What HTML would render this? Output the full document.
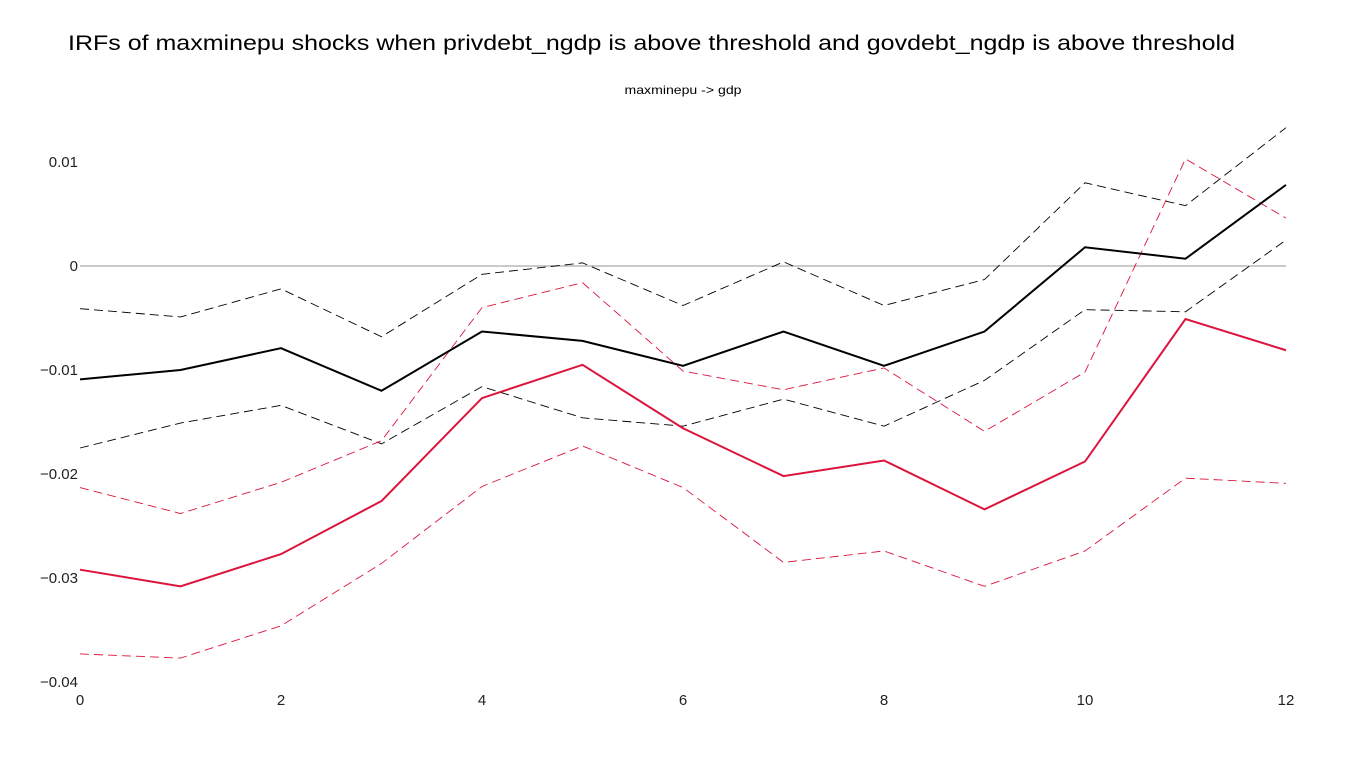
<!DOCTYPE html>
<html><head><meta charset="utf-8"><style>
body{margin:0;background:#fff;font-family:"Liberation Sans",sans-serif;}
svg text{font-family:"Liberation Sans",sans-serif;}
</style></head><body>
<svg id="chart" width="1366" height="768" xmlns="http://www.w3.org/2000/svg">
<text x="68" y="50" font-size="21" textLength="1167" lengthAdjust="spacingAndGlyphs" fill="#000">IRFs of maxminepu shocks when privdebt_ngdp is above threshold and govdebt_ngdp is above threshold</text>
<text x="683" y="94" font-size="12" text-anchor="middle" textLength="117" lengthAdjust="spacingAndGlyphs" fill="#000">maxminepu -&gt; gdp</text>
<g id="axes"></g><g id="series"></g>
</svg>
<script>
const periods=[0,1,2,3,4,5,6,7,8,9,10,11,12];
const blackMid=[-0.0109,-0.0100,-0.0079,-0.0120,-0.0063,-0.0072,-0.0096,-0.0063,-0.0096,-0.0063,0.0018,0.0007,0.0078];
const blackUp=[-0.0041,-0.0049,-0.0022,-0.0068,-0.0008,0.0003,-0.0038,0.0004,-0.0038,-0.0013,0.0080,0.0058,0.0133];
const blackLo=[-0.0175,-0.0151,-0.0134,-0.0171,-0.0116,-0.0146,-0.0154,-0.0128,-0.0154,-0.0110,-0.0042,-0.0044,0.0025];
const redMid=[-0.0292,-0.0308,-0.0277,-0.0226,-0.0127,-0.0095,-0.0156,-0.0202,-0.0187,-0.0234,-0.0188,-0.0051,-0.0081];
const redUp=[-0.0213,-0.0238,-0.0208,-0.0168,-0.0040,-0.0016,-0.0101,-0.0119,-0.0098,-0.0159,-0.0102,0.0103,0.0046];
const redLo=[-0.0373,-0.0377,-0.0346,-0.0286,-0.0212,-0.0173,-0.0213,-0.0285,-0.0274,-0.0308,-0.0274,-0.0204,-0.0209];
const xTicks=[0,2,4,6,8,10,12];
const yTicks=[0.01,0,-0.01,-0.02,-0.03,-0.04];
const yTickLabels=["0.01","0","−0.01","−0.02","−0.03","−0.04"];

const X=v=>80+v*(1206/12);
const Y=v=>266-v*10400;
const NS="http://www.w3.org/2000/svg";
const axes=document.getElementById('axes'),ser=document.getElementById('series');
function mk(tag,attrs,parent){const e=document.createElementNS(NS,tag);for(const k in attrs)e.setAttribute(k,attrs[k]);parent.appendChild(e);return e;}
const zl=mk('line',{x1:X(0),x2:X(12),y1:Y(0),y2:Y(0),stroke:'#aaa','stroke-width':1.3},axes);


xTicks.forEach(t=>{const e=mk('text',{x:X(t),y:705,'font-size':15,'text-anchor':'middle',fill:'#222'},axes);e.textContent=t;

});
yTicks.forEach((t,i)=>{const e=mk('text',{x:78,y:Y(t)+5,'font-size':15,'text-anchor':'end',fill:'#222'},axes);e.textContent=yTickLabels[i];

});
function line(vals,color,w,dash,name){
  const p=mk('polyline',{points:vals.map((v,i)=>X(periods[i])+','+Y(v)).join(' '),fill:'none',stroke:color,'stroke-width':w},ser);
  if(dash)p.setAttribute('stroke-dasharray',dash);
  
  
}
line(blackUp,'#000',0.9,'9,5','black-upper-band');
line(blackLo,'#000',0.9,'9,5','black-lower-band');
line(redUp,'#dc143c',0.9,'9,5','red-upper-band');
line(redLo,'#dc143c',0.9,'9,5','red-lower-band');
line(blackMid,'#000',2,null,'black-irf-line');
line(redMid,'#dc143c',2,null,'red-irf-line');
</script>
</body></html>
